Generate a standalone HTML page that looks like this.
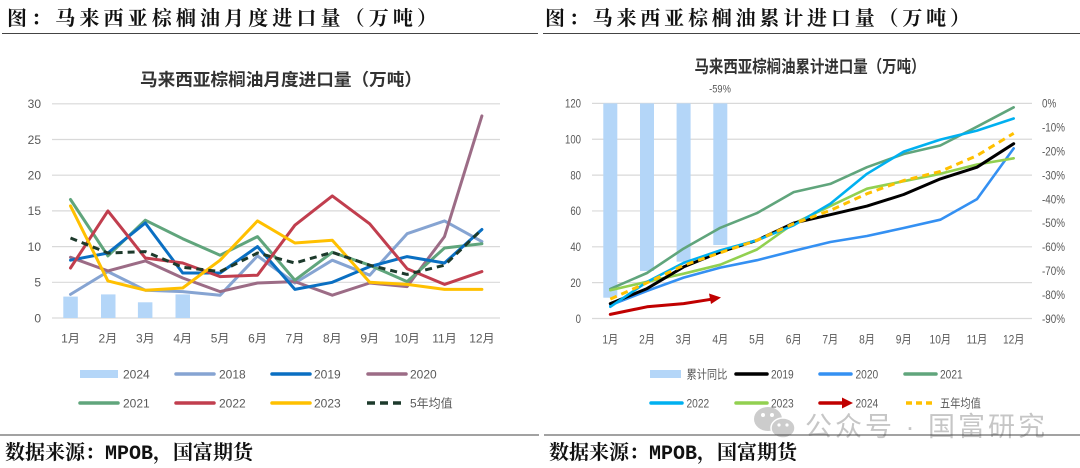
<!DOCTYPE html>
<html><head><meta charset="utf-8"><style>
html,body{margin:0;padding:0;background:#fff;}
svg{display:block;}
.ax{font-family:"Liberation Sans","Noto Sans CJK SC",sans-serif;font-size:12px;fill:#595959;}
.hd{font-family:"Liberation Serif","Noto Serif CJK SC",serif;font-size:20px;font-weight:700;fill:#111;}
.tt{font-family:"Liberation Sans","Noto Sans CJK SC",sans-serif;font-weight:700;fill:#333;}
</style></head><body>
<svg width="1080" height="468" viewBox="0 0 1080 468" xmlns="http://www.w3.org/2000/svg">
<rect width="1080" height="468" fill="#fff"/>
<!-- headers -->
<text class="hd" x="7" y="25" textLength="430" lengthAdjust="spacing">图：马来西亚棕榈油月度进口量（万吨）</text>
<text class="hd" x="545" y="25" textLength="425" lengthAdjust="spacing">图：马来西亚棕榈油累计进口量（万吨）</text>
<line x1="2" y1="33.5" x2="538" y2="33.5" stroke="#444" stroke-width="1"/>
<line x1="543" y1="33.5" x2="1080" y2="33.5" stroke="#444" stroke-width="1"/>

<!-- ============ LEFT CHART ============ -->
<text class="tt" x="281" y="85.5" font-size="17" text-anchor="middle" textLength="282" lengthAdjust="spacingAndGlyphs">马来西亚棕榈油月度进口量（万吨）</text>
<g stroke="#d9d9d9" stroke-width="1.2">
<line x1="52" y1="103.8" x2="500" y2="103.8"/>
<line x1="52" y1="139.5" x2="500" y2="139.5"/>
<line x1="52" y1="175.2" x2="500" y2="175.2"/>
<line x1="52" y1="210.9" x2="500" y2="210.9"/>
<line x1="52" y1="246.6" x2="500" y2="246.6"/>
<line x1="52" y1="282.3" x2="500" y2="282.3"/>
<line x1="52" y1="318" x2="500" y2="318"/>
</g>
<g class="ax" text-anchor="end">
<text x="41" y="108.1">30</text>
<text x="41" y="143.8">25</text>
<text x="41" y="179.5">20</text>
<text x="41" y="215.2">15</text>
<text x="41" y="250.9">10</text>
<text x="41" y="286.6">5</text>
<text x="41" y="322.3">0</text>
</g>
<g class="ax" text-anchor="middle">
<text x="70.5" y="342.5">1月</text>
<text x="107.9" y="342.5">2月</text>
<text x="145.3" y="342.5">3月</text>
<text x="182.7" y="342.5">4月</text>
<text x="220.1" y="342.5">5月</text>
<text x="257.5" y="342.5">6月</text>
<text x="294.9" y="342.5">7月</text>
<text x="332.3" y="342.5">8月</text>
<text x="369.7" y="342.5">9月</text>
<text x="407.1" y="342.5">10月</text>
<text x="444.5" y="342.5">11月</text>
<text x="481.9" y="342.5">12月</text>
</g>
<g fill="#b4d6f8">
<rect x="63.3" y="296.6" width="14.5" height="21.4"/>
<rect x="101" y="294.4" width="14.5" height="23.6"/>
<rect x="137.9" y="302.3" width="14.5" height="15.7"/>
<rect x="175.5" y="294.4" width="14.5" height="23.6"/>
</g>
<g fill="none" stroke-width="3" stroke-linejoin="round" stroke-linecap="round">
<polyline stroke="#86a4d2" points="70.5,294.4 107.9,271.6 145.3,290.2 182.7,291.6 220.1,295.2 257.5,255.9 294.9,283 332.3,260.2 369.7,275.2 407.1,233.7 444.5,220.9 481.9,241.6"/>
<polyline stroke="#9c6c86" points="70.5,257.3 107.9,270.9 145.3,260.9 182.7,278 220.1,291.6 257.5,283 294.9,281.6 332.3,295.2 369.7,283 407.1,286.6 444.5,236.6 481.9,115.9"/>
<polyline stroke="#60a57c" points="70.5,199.5 107.9,255.9 145.3,220.2 182.7,238.7 220.1,255.2 257.5,236.6 294.9,280.2 332.3,252.3 369.7,265.2 407.1,281.6 444.5,248 481.9,243.7"/>
<polyline stroke="#0a6fc2" points="70.5,260.2 107.9,253 145.3,223 182.7,273 220.1,273 257.5,246.6 294.9,289.4 332.3,282.3 369.7,266.6 407.1,256.6 444.5,263 481.9,229.5"/>
<polyline stroke="#c13e4e" points="70.5,268 107.9,210.9 145.3,258 182.7,263 220.1,276.6 257.5,275.2 294.9,225.2 332.3,195.9 369.7,223.8 407.1,268.7 444.5,284.4 481.9,271.6"/>
<polyline stroke="#ffc000" points="70.5,205.9 107.9,280.9 145.3,290.2 182.7,288 220.1,260.2 257.5,220.9 294.9,243 332.3,240.2 369.7,282.3 407.1,284.4 444.5,289.4 481.9,289.4"/>
<polyline stroke="#1d3a2c" stroke-dasharray="7,5" stroke-linecap="butt" points="70.5,238 107.9,253 145.3,251.6 182.7,267.3 220.1,271.6 257.5,253 294.9,263 332.3,252.3 369.7,265.2 407.1,274.4 444.5,265.2 481.9,229.5"/>
</g>
<!-- left legend -->
<rect x="80" y="370" width="38" height="8" fill="#b4d6f8"/>
<g stroke-width="3.5" stroke-linecap="round">
<line x1="176" y1="374" x2="214" y2="374" stroke="#86a4d2"/>
<line x1="272" y1="374" x2="310" y2="374" stroke="#0a6fc2"/>
<line x1="368" y1="374" x2="406" y2="374" stroke="#9c6c86"/>
<line x1="80" y1="403" x2="118" y2="403" stroke="#60a57c"/>
<line x1="176" y1="403" x2="214" y2="403" stroke="#c13e4e"/>
<line x1="272" y1="403" x2="310" y2="403" stroke="#ffc000"/>
<line x1="367" y1="403" x2="404" y2="403" stroke="#1d3a2c" stroke-dasharray="8,5" stroke-linecap="butt"/>
</g>
<g class="ax">
<text x="123" y="378.3">2024</text>
<text x="219" y="378.3">2018</text>
<text x="314" y="378.3">2019</text>
<text x="410" y="378.3">2020</text>
<text x="123" y="407.3">2021</text>
<text x="219" y="407.3">2022</text>
<text x="314" y="407.3">2023</text>
<text x="410" y="407.3">5年均值</text>
</g>
<line x1="0" y1="435" x2="539" y2="435" stroke="#444" stroke-width="1"/>
<text class="hd" x="5" y="459"><tspan>数据来源：</tspan><tspan font-family="'Liberation Mono',monospace">MPOB</tspan><tspan>，国富期货</tspan></text>

<!-- ============ RIGHT CHART ============ -->
<text class="tt" x="810" y="72.5" font-size="17" text-anchor="middle" textLength="231" lengthAdjust="spacingAndGlyphs">马来西亚棕榈油累计进口量（万吨）</text>
<g stroke="#d9d9d9" stroke-width="1.2">
<line x1="592" y1="103.4" x2="1032" y2="103.4"/>
<line x1="592" y1="139.25" x2="1032" y2="139.25"/>
<line x1="592" y1="175.1" x2="1032" y2="175.1"/>
<line x1="592" y1="210.95" x2="1032" y2="210.95"/>
<line x1="592" y1="246.8" x2="1032" y2="246.8"/>
<line x1="592" y1="282.65" x2="1032" y2="282.65"/>
<line x1="592" y1="318.5" x2="1032" y2="318.5"/>
</g>
<g class="ax" text-anchor="end">
<text transform="translate(581,107.7) scale(0.8,1)">120</text>
<text transform="translate(581,143.5) scale(0.8,1)">100</text>
<text transform="translate(581,179.4) scale(0.8,1)">80</text>
<text transform="translate(581,215.2) scale(0.8,1)">60</text>
<text transform="translate(581,251.1) scale(0.8,1)">40</text>
<text transform="translate(581,286.9) scale(0.8,1)">20</text>
<text transform="translate(581,322.8) scale(0.8,1)">0</text>
</g>
<g class="ax">
<text transform="translate(1042,107.7) scale(0.82,1)">0%</text>
<text transform="translate(1042,131.6) scale(0.82,1)">-10%</text>
<text transform="translate(1042,155.5) scale(0.82,1)">-20%</text>
<text transform="translate(1042,179.4) scale(0.82,1)">-30%</text>
<text transform="translate(1042,203.3) scale(0.82,1)">-40%</text>
<text transform="translate(1042,227.2) scale(0.82,1)">-50%</text>
<text transform="translate(1042,251.1) scale(0.82,1)">-60%</text>
<text transform="translate(1042,275) scale(0.82,1)">-70%</text>
<text transform="translate(1042,298.9) scale(0.82,1)">-80%</text>
<text transform="translate(1042,322.8) scale(0.82,1)">-90%</text>
</g>
<g class="ax" text-anchor="middle">
<text transform="translate(610.3,343.5) scale(0.85,1)">1月</text>
<text transform="translate(647,343.5) scale(0.85,1)">2月</text>
<text transform="translate(683.6,343.5) scale(0.85,1)">3月</text>
<text transform="translate(720.3,343.5) scale(0.85,1)">4月</text>
<text transform="translate(757,343.5) scale(0.85,1)">5月</text>
<text transform="translate(793.7,343.5) scale(0.85,1)">6月</text>
<text transform="translate(830.3,343.5) scale(0.85,1)">7月</text>
<text transform="translate(867,343.5) scale(0.85,1)">8月</text>
<text transform="translate(903.7,343.5) scale(0.85,1)">9月</text>
<text transform="translate(940.3,343.5) scale(0.85,1)">10月</text>
<text transform="translate(977,343.5) scale(0.85,1)">11月</text>
<text transform="translate(1013.7,343.5) scale(0.85,1)">12月</text>
</g>
<g fill="#b4d6f8">
<rect x="603.3" y="103.4" width="14" height="194.3"/>
<rect x="640" y="103.4" width="14" height="167.6"/>
<rect x="676.6" y="103.4" width="14" height="158.3"/>
<rect x="713.3" y="103.4" width="14" height="141.6"/>
</g>
<text class="ax" font-size="11" text-anchor="middle" transform="translate(720,92.5) scale(0.85,1)" style="font-size:11px">-59%</text>
<g fill="none" stroke-width="2.6" stroke-linejoin="round" stroke-linecap="round">
<polyline stroke="#60a57c" points="610.3,288.9 647,273 683.6,248.6 720.3,227.8 757,213.1 793.7,192.1 830.3,183.9 867,167.2 903.7,154 940.3,145.5 977,126.7 1013.7,107.3"/>
<polyline stroke="#3490f2" points="610.3,305.2 647,290.9 683.6,277.6 720.3,267.6 757,260.2 793.7,250.9 830.3,242 867,236 903.7,228 940.3,219.7 977,199.1 1013.7,148.4"/>
<polyline stroke="#92d050" points="610.3,290.2 647,281.8 683.6,273.7 720.3,264.7 757,249.5 793.7,223.5 830.3,206.1 867,188.7 903.7,181.2 940.3,173.8 977,164.5 1013.7,158.3"/>
<polyline stroke="#000" stroke-width="3" points="610.3,303.6 647,288.6 683.6,266.9 720.3,252 757,240.3 793.7,223.1 830.3,214.7 867,206.1 903.7,194.5 940.3,178.9 977,167.2 1013.7,143.7"/>
<polyline stroke="#00b0f0" points="610.3,306.8 647,281.9 683.6,262.9 720.3,250.4 757,240.3 793.7,225.3 830.3,203.8 867,173.8 903.7,151.6 940.3,139.6 977,130.6 1013.7,118.5"/>
<polyline stroke="#ffc000" stroke-width="3" stroke-dasharray="7,5" stroke-linecap="butt" points="610.3,299.1 647,282.8 683.6,265.3 720.3,252.7 757,240.3 793.7,223.7 830.3,210.4 867,193.7 903.7,180.5 940.3,171.5 977,155.6 1013.7,133.3"/>
<polyline stroke="#c00000" stroke-width="3" points="610.3,314.4 647,306.8 683.6,303.6 711,299.3"/>
</g>
<polygon points="721,297.5 709,293.5 711,304" fill="#c00000"/>
<!-- right legend -->
<rect x="650" y="370" width="31" height="8" fill="#b4d6f8"/>
<g stroke-width="3.5" stroke-linecap="round">
<line x1="736" y1="374" x2="767" y2="374" stroke="#000"/>
<line x1="820" y1="374" x2="851" y2="374" stroke="#3490f2"/>
<line x1="905" y1="374" x2="936" y2="374" stroke="#60a57c"/>
<line x1="651" y1="403" x2="682" y2="403" stroke="#00b0f0"/>
<line x1="736" y1="403" x2="767" y2="403" stroke="#92d050"/>
<line x1="820" y1="403" x2="843" y2="403" stroke="#c00000"/>
<line x1="906" y1="403" x2="933" y2="403" stroke="#ffc000" stroke-dasharray="6,4" stroke-linecap="butt"/>
</g>
<polygon points="853,403 842,397.5 842,408.5" fill="#c00000"/>
<g class="ax">
<text transform="translate(686.5,378.3) scale(0.85,1)">累计同比</text>
<text transform="translate(771,378.3) scale(0.85,1)">2019</text>
<text transform="translate(855.5,378.3) scale(0.85,1)">2020</text>
<text transform="translate(940,378.3) scale(0.85,1)">2021</text>
<text transform="translate(686.5,407.3) scale(0.85,1)">2022</text>
<text transform="translate(771,407.3) scale(0.85,1)">2023</text>
<text transform="translate(855.5,407.3) scale(0.85,1)">2024</text>
<text transform="translate(940,407.3) scale(0.85,1)">五年均值</text>
</g>
<!-- watermark -->
<g opacity="0.85">
<ellipse cx="768" cy="419" rx="14" ry="12" fill="#c4c4c4"/>
<ellipse cx="783" cy="428" rx="12" ry="10" fill="#c4c4c4" stroke="#fff" stroke-width="1.5"/>
<circle cx="763" cy="415" r="2" fill="#fff"/>
<circle cx="772" cy="415" r="2" fill="#fff"/>
<circle cx="779" cy="425" r="1.6" fill="#fff"/>
<circle cx="787" cy="425" r="1.6" fill="#fff"/>
<text x="805" y="436" font-family="'Liberation Sans','Noto Sans CJK SC',sans-serif" font-size="27" fill="#bdbdbd" textLength="240" lengthAdjust="spacing">公众号 · 国富研究</text>
</g>
<line x1="544" y1="435" x2="1080" y2="435" stroke="#444" stroke-width="1"/>
<text class="hd" x="549" y="459"><tspan>数据来源：</tspan><tspan font-family="'Liberation Mono',monospace">MPOB</tspan><tspan>，国富期货</tspan></text>
</svg>
</body></html>
